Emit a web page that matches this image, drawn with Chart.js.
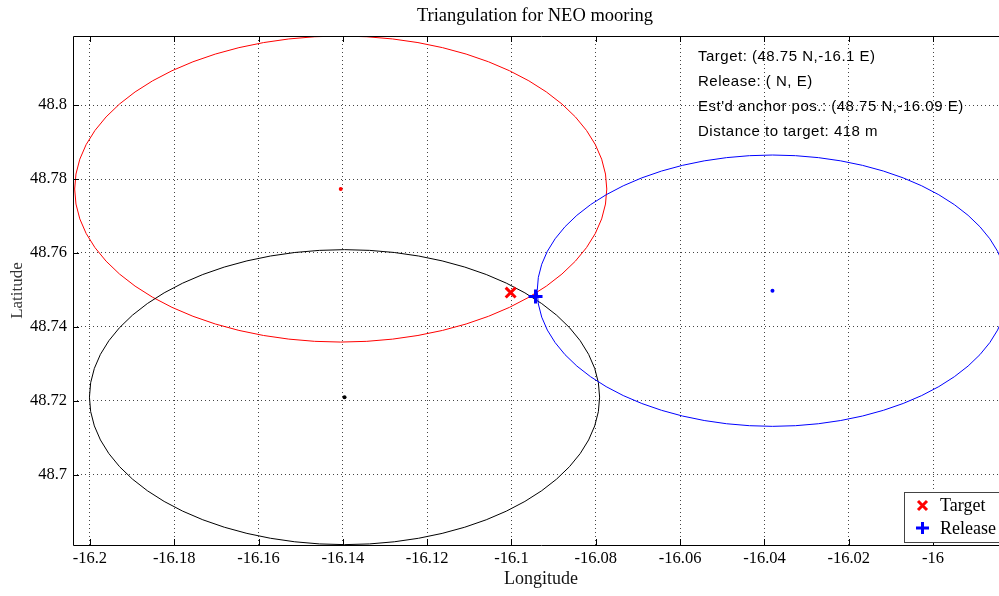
<!DOCTYPE html>
<html>
<head>
<meta charset="utf-8">
<script src="https://cdn.jsdelivr.net/npm/chart.js@4/dist/chart.umd.min.js"></script>
<style>
  html, body { margin: 0; padding: 0; background: #fff; overflow: hidden; }
  #wrap { width: 1045px; height: 596px; }
</style>
</head>
<body>
<div id="wrap"><canvas id="triChart"></canvas></div>
<script>
// Range circles from the three ranging positions
const circleColors = ["#ff0000", "#000000", "#0000ff"];
const centerLon = [-16.1405, -16.1396, -16.0381];
const centerLat = [48.7773, 48.7210, 48.7498];
const radiusLon = [0.0631, 0.0605, 0.0558];
const radiusLat = [0.0414, 0.0399, 0.0367];

// Target / release positions
const targetLon = [-16.1002];
const targetLat = [48.7493];
const releaseLon = [-16.0943];
const releaseLat = [48.7482];

// Axis ticks
const lonTicks = [-16.2, -16.18, -16.16, -16.14, -16.12, -16.1, -16.08, -16.06, -16.04, -16.02, -16];
const latTicks = [48.7, 48.72, 48.74, 48.76, 48.78, 48.8];

// Text box in the top right corner
const infoLines = [
  "Target: (48.75 N,-16.1 E)",
  "Release: ( N, E)",
  "Est'd anchor pos.: (48.75 N,-16.09 E)",
  "Distance to target: 418 m"
];
const legendLabels = ["Target", "Release"];

const serif = "'Liberation Serif', 'Times New Roman', serif";

const fmt = v => String(Number(v.toFixed(2)));

// ellipses drawn through the scales (circles in metres look oval in degrees)
const rangeCircles = {
  id: "rangeCircles",
  beforeDatasetsDraw(chart) {
    const { ctx, chartArea: a, scales: { x, y } } = chart;
    ctx.save();
    ctx.beginPath();
    ctx.rect(a.left, a.top, a.right - a.left, a.bottom - a.top);
    ctx.clip();
    centerLon.forEach((lon, i) => {
      const cx = x.getPixelForValue(lon);
      const cy = y.getPixelForValue(centerLat[i]);
      const rx = Math.abs(x.getPixelForValue(lon + radiusLon[i]) - cx);
      const ry = Math.abs(y.getPixelForValue(centerLat[i] + radiusLat[i]) - cy);
      ctx.beginPath();
      ctx.ellipse(cx, cy, rx, ry, 0, 0, 2 * Math.PI);
      ctx.strokeStyle = circleColors[i];
      ctx.lineWidth = 1;
      ctx.stroke();
    });
    ctx.restore();
  }
};

// frame, inner tick marks, title, info text, legend
const decorations = {
  id: "decorations",
  afterDraw(chart) {
    const { ctx, chartArea: a, scales: { x, y } } = chart;
    ctx.save();
    ctx.strokeStyle = "#000";
    ctx.lineWidth = 1;
    ctx.beginPath();
    ctx.moveTo(a.left + 0.5, a.top + 0.5);
    ctx.lineTo(a.right + 0.5, a.top + 0.5);
    ctx.lineTo(a.right + 0.5, a.bottom + 0.5);
    ctx.lineTo(a.left + 0.5, a.bottom + 0.5);
    ctx.closePath();
    ctx.stroke();

    ctx.beginPath();
    x.ticks.forEach(t => {
      const px = Math.round(x.getPixelForValue(t.value)) + 0.5;
      ctx.moveTo(px, a.bottom); ctx.lineTo(px, a.bottom - 6);
      ctx.moveTo(px, a.top); ctx.lineTo(px, a.top + 6);
    });
    y.ticks.forEach(t => {
      const py = Math.round(y.getPixelForValue(t.value)) + 0.5;
      ctx.moveTo(a.left, py); ctx.lineTo(a.left + 6, py);
    });
    ctx.stroke();

    // title
    ctx.fillStyle = "#000";
    ctx.font = "18.5px " + serif;
    ctx.textAlign = "center";
    ctx.textBaseline = "middle";
    ctx.fillText("Triangulation for NEO mooring", 535, 16);

    // info text
    ctx.font = "15px 'Liberation Sans', Arial, sans-serif";
    ctx.letterSpacing = "0.5px";
    ctx.textAlign = "left";
    infoLines.forEach((line, i) => ctx.fillText(line, 698, 57 + i * 25));
    ctx.letterSpacing = "0px";

    // legend box
    const bx = 904, by = 492, bw = 140, bh = 50;
    ctx.fillStyle = "#fff";
    ctx.fillRect(bx, by, bw, bh);
    ctx.strokeStyle = "#444";
    ctx.strokeRect(bx + 0.5, by + 0.5, bw, bh);
    ctx.lineWidth = 3;
    ctx.strokeStyle = "#ff0000";
    ctx.beginPath();
    ctx.moveTo(918, 501); ctx.lineTo(927, 510);
    ctx.moveTo(927, 501); ctx.lineTo(918, 510);
    ctx.stroke();
    ctx.strokeStyle = "#0000ff";
    ctx.beginPath();
    ctx.moveTo(916, 528); ctx.lineTo(929, 528);
    ctx.moveTo(922.5, 522); ctx.lineTo(922.5, 534);
    ctx.stroke();
    ctx.fillStyle = "#000";
    ctx.font = "18px " + serif;
    ctx.fillText(legendLabels[0], 940, 506);
    ctx.fillText(legendLabels[1], 940, 529);
    ctx.restore();
  }
};

const gridStyle = {
  color: "#444",
  lineWidth: 1,
  drawTicks: false
};

const config = {
  type: "scatter",
  data: {
    datasets: [
      {
        label: "centres",
        data: centerLon.map((lon, i) => ({ x: lon, y: centerLat[i] })),
        pointRadius: 2,
        pointBorderWidth: 0,
        pointBackgroundColor: circleColors
      },
      {
        label: legendLabels[0],
        data: targetLon.map((lon, i) => ({ x: lon, y: targetLat[i] })),
        pointStyle: "crossRot",
        pointRadius: 7,
        pointBorderWidth: 3,
        pointBorderColor: "#ff0000"
      },
      {
        label: legendLabels[1],
        data: releaseLon.map((lon, i) => ({ x: lon, y: releaseLat[i] })),
        pointStyle: "cross",
        pointRadius: 7,
        pointBorderWidth: 3,
        pointBorderColor: "#0000ff"
      }
    ]
  },
  options: {
    responsive: true,
    maintainAspectRatio: false,
    animation: false,
    events: [],
    layout: { padding: { left: 0, top: 36, right: 36, bottom: 0 } },
    plugins: {
      legend: { display: false },
      tooltip: { enabled: false }
    },
    scales: {
      x: {
        type: "linear",
        min: -16.204,
        max: -15.982,
        afterBuildTicks: axis => { axis.ticks = lonTicks.map(v => ({ value: v })); },
        afterFit: axis => { axis.height = 51; },
        grid: gridStyle,
        border: { display: false, dash: [1, 3] },
        ticks: {
          padding: 4,
          color: "#000",
          font: { family: serif, size: 16.5 },
          maxRotation: 0,
          callback: v => fmt(v)
        },
        title: {
          display: true,
          text: "Longitude",
          color: "#111",
          font: { family: serif, size: 18 },
          padding: { top: 0, bottom: 6 }
        }
      },
      y: {
        type: "linear",
        min: 48.681,
        max: 48.8187,
        afterBuildTicks: axis => { axis.ticks = latTicks.map(v => ({ value: v })); },
        afterFit: axis => { axis.width = 73; },
        grid: gridStyle,
        border: { display: false, dash: [1, 3] },
        ticks: {
          padding: 6,
          color: "#000",
          font: { family: serif, size: 16.5 },
          callback: v => fmt(v)
        },
        title: {
          display: true,
          text: "Latitude",
          color: "#333",
          font: { family: serif, size: 17 },
          padding: { top: 7, bottom: 0 }
        }
      }
    }
  },
  plugins: [rangeCircles, decorations]
};

const triChart = new Chart(document.getElementById("triChart"), config);
</script>
</body>
</html>
